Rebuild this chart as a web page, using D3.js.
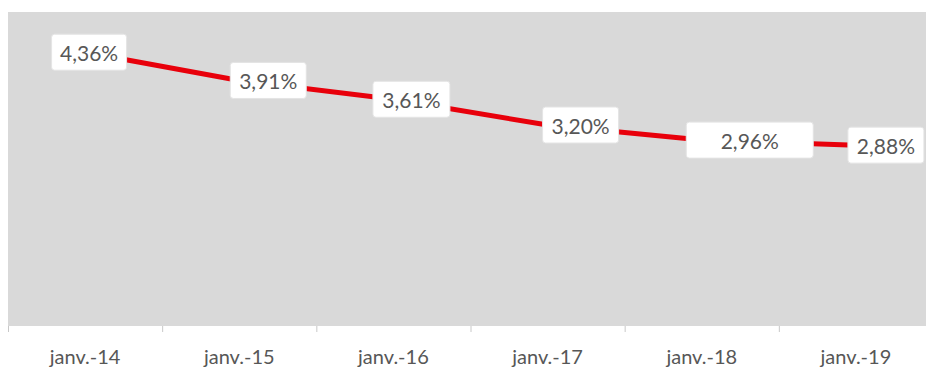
<!DOCTYPE html>
<html>
<head>
<meta charset="utf-8">
<script src="https://cdn.jsdelivr.net/npm/d3@7"></script>
<style>
  html, body { margin: 0; padding: 0; background: #fff; }
  svg { display: block; }
  text { font-family: Lato, "Open Sans", sans-serif; fill: #575757; }
</style>
</head>
<body>
<div id="app"></div>
<script>
// data
var categories = ['janv.-14', 'janv.-15', 'janv.-16', 'janv.-17', 'janv.-18', 'janv.-19'];
var rates = [4.36, 3.91, 3.61, 3.20, 2.96, 2.88];
var rateLabels = ['4,36%', '3,91%', '3,61%', '3,20%', '2,96%', '2,88%'];

// label box layout (offset from point, box width)
var labelDx = [4, 29, 18, 33, 48, 30];
var labelW = [75, 76, 77, 76, 127, 76];

var width = 926, height = 369;
var plot = {left: 8, top: 12, right: 933, bottom: 326};

var svg = d3.select('#app').append('svg').attr('width', width).attr('height', height);

svg.append('rect')
    .attr('x', plot.left).attr('y', plot.top)
    .attr('width', width - plot.left).attr('height', plot.bottom - plot.top)
    .attr('fill', '#d9d9d9');

var x = d3.scaleBand().domain(categories).range([plot.left, plot.right]);
var y = d3.scaleLinear().domain([0, 5]).range([plot.bottom, plot.top]);

// axis ticks at band boundaries
svg.append('g').selectAll('line').data(categories).enter().append('line')
    .attr('x1', function(d) { return x(d) + 0.5; })
    .attr('x2', function(d) { return x(d) + 0.5; })
    .attr('y1', plot.bottom).attr('y2', plot.bottom + 6)
    .attr('stroke', '#c8c8c8');

svg.append('g').selectAll('text').data(categories).enter().append('text')
    .attr('x', function(d) { return x(d) + x.bandwidth() / 2; })
    .attr('y', 356)
    .attr('text-anchor', 'middle')
    .attr('dominant-baseline', 'central')
    .style('font-size', '20px')
    .text(function(d) { return d; });

var line = d3.line()
    .x(function(d, i) { return x(categories[i]) + x.bandwidth() / 2; })
    .y(function(d) { return y(d); });

svg.append('path').datum(rates)
    .attr('d', line)
    .attr('fill', 'none')
    .attr('stroke', '#e8000b')
    .attr('stroke-width', 5)
    .attr('stroke-linejoin', 'round');

var labels = svg.append('g').selectAll('g').data(rates).enter().append('g')
    .attr('transform', function(d, i) {
        return 'translate(' + [x(categories[i]) + x.bandwidth() / 2 + labelDx[i], y(d)] + ')';
    });

labels.append('rect')
    .attr('x', function(d, i) { return -labelW[i] / 2; })
    .attr('y', -18)
    .attr('width', function(d, i) { return labelW[i]; })
    .attr('height', 36)
    .attr('rx', 3)
    .attr('fill', '#fff')
    .attr('stroke', '#e4e4e4');

labels.append('text')
    .attr('text-anchor', 'middle')
    .attr('dominant-baseline', 'central')
    .style('font-size', '21px')
    .text(function(d, i) { return rateLabels[i]; });
</script>
</body>
</html>
